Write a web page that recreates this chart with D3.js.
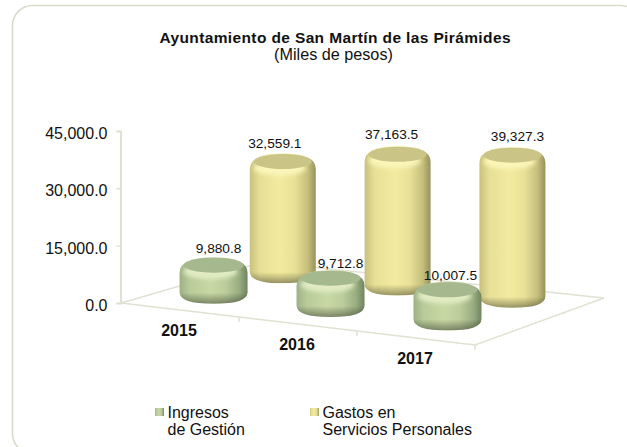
<!DOCTYPE html>
<html><head><meta charset="utf-8">
<script src="https://cdn.jsdelivr.net/npm/d3@7"></script>
<style>html,body{margin:0;padding:0;background:#fff;overflow:hidden}svg{display:block}text{font-family:"Liberation Sans",Arial,sans-serif;fill:#111}</style>
</head><body><svg id="c" width="627" height="447"></svg>
<script>
const categories = ["2015","2016","2017"];
const ingresos = [9880.8,9712.8,10007.5];
const gastos = [32559.1,37163.5,39327.3];
const yTicks = [0,15000,30000,45000];
const legendIngresos = ["Ingresos","de Gestión"];
const legendGastos = ["Gastos en","Servicios Personales"];

const svg = d3.select("#c");
const defs = svg.append("defs");
function grad(id,stops,x2,y2){
  const g=defs.append("linearGradient").attr("id",id).attr("x1",0).attr("y1",0).attr("x2",x2).attr("y2",y2);
  stops.forEach(s=>g.append("stop").attr("offset",s[0]).attr("stop-color",s[1]).attr("stop-opacity",s[2]===undefined?1:s[2]));
}
const pal={
 g:{side:["#9db188","#b8cb98","#c8d8a5","#bccd9c","#98ac80","#6f8560"],top:"#a6b88d",bev:"#e0ebc2"},
 y:{side:["#c8c17e","#e6df96","#f2eb9f","#e8e198","#c6bf7c","#97915d"],top:"#cbc487",bev:"#faf5b8"}
};
Object.entries(pal).forEach(([k,p])=>{
  grad("side"+k,[[0,p.side[0]],[.15,p.side[1]],[.45,p.side[2]],[.68,p.side[3]],[.88,p.side[4]],[1,p.side[5]]],1,0);
});
grad("shade",[[0,"#000",0],[.4,"#000",0],[1,"#000",.38]],0,1);
defs.append("filter").attr("id","soft").append("feGaussianBlur").attr("stdDeviation",.6);
const hf=defs.append("filter").attr("id","glow").attr("x","-20%").attr("y","-60%").attr("width","140%").attr("height","220%");
hf.append("feGaussianBlur").attr("stdDeviation",2.2);

// frame (runs off the right and bottom edges)
svg.append("rect").attr("x",12.5).attr("y",5.5).attr("width",628).attr("height",448).attr("rx",20)
  .attr("fill","#fff").attr("stroke","#dadacb").attr("stroke-width",1.6);

// titles
svg.append("text").attr("x",335).attr("y",43).attr("text-anchor","middle").attr("font-weight","bold").attr("font-size",15.5)
  .attr("textLength",351).attr("lengthAdjust","spacing").text("Ayuntamiento de San Martín de las Pirámides");
svg.append("text").attr("x",333.5).attr("y",60).attr("text-anchor","middle").attr("font-size",16.2).text("(Miles de pesos)");

// value axis
const y = d3.scaleLinear().domain([0,45000]).range([303,131]);
const axisG = svg.append("g").attr("transform","translate(120.5,0)")
  .call(d3.axisLeft(y).tickValues(yTicks).tickFormat(d3.format(",.1f")).tickSize(4).tickPadding(9));
axisG.select(".domain").attr("stroke","#dfe2d2").attr("stroke-width",2);
axisG.selectAll(".tick line").attr("stroke","#dfe2d2").attr("stroke-width",1.5);
axisG.selectAll("text").attr("font-size",16).attr("font-family","Liberation Sans").attr("fill","#111").attr("dy","0.47em");

// floor projection: u along categories, v across depth (0 front .. 1 back)
const fx = d3.scaleLinear().domain([0,categories.length]).range([121,475]);
const fy = d3.scaleLinear().domain([0,categories.length]).range([303,345]);
const dx = d3.scaleLinear().domain([0,categories.length]).range([142,129]);
const dy = d3.scaleLinear().domain([0,categories.length]).range([-41,-47]);
const P=(u,vx,vy=vx)=>[fx(u)+dx(u)*vx,fy(u)+dy(u)*vy];
const floor = svg.append("g").attr("fill","none").attr("stroke","#dfe2d2").attr("stroke-width",1.5);
const line=d3.line();
floor.append("path").attr("d",line([P(0,1),P(0,0),P(3,0),P(3,1),P(0,1)]));
d3.range(1,4).forEach(i=>floor.append("path").attr("d",line([P(i,0),[fx(i),fy(i)+5]])));

// category labels
svg.append("g").selectAll("text").data(categories).join("text")
  .attr("x",(d,i)=>fx(i+.5)-1).attr("y",(d,i)=>fy(i+.5)+25.5)
  .attr("text-anchor","middle").attr("font-weight","bold").attr("font-size",16).text(d=>d);

// cylinders
const depthX={g:.24,y:.735}, depthY={g:.35,y:.84};
const rx={g:34,y:33}, ry=8.5;
const kBase={g:.003,y:.00346};
const labelNudge={g:[[5,-4],[10,-2],[3,-2]],y:[[-8,-6],[-6,-7],[5,-6]]};
let clipId=0;
function cyl(k,val,i){
  const s=P(i+.5,depthX[k],depthY[k]);
  const cx=s[0], by=s[1];
  const h=d3.scaleLinear().domain([0,45000]).range([0,45000*kBase[k]*(1+.028*i)])(val);
  const tY=by-h, r=rx[k];
  const body=`M${cx-r},${tY+7}L${cx-r},${by-3}Q${cx-r},${by+ry} ${cx},${by+ry}Q${cx+r},${by+ry} ${cx+r},${by-3}L${cx+r},${tY+7}Q${cx+r},${tY-ry} ${cx},${tY-ry}Q${cx-r},${tY-ry} ${cx-r},${tY+7}Z`;
  const id="clip"+(clipId++);
  defs.append("clipPath").attr("id",id).append("path").attr("d",body);
  const g=svg.append("g").attr("class","cyl").attr("filter","url(#soft)");
  g.append("path").attr("d",body).attr("fill",`url(#side${k})`);
  const inner=g.append("g").attr("clip-path",`url(#${id})`);
  // dark rim at the foot
  inner.append("rect").attr("x",cx-r).attr("y",by-10).attr("width",2*r).attr("height",ry+10).attr("fill","url(#shade)");
  // light band under the top face
  inner.append("ellipse").attr("cx",cx-3).attr("cy",tY+6).attr("rx",r-7).attr("ry",ry-1).attr("fill",pal[k].bev).attr("filter","url(#glow)");
  // top face
  inner.append("ellipse").attr("cx",cx).attr("cy",tY-.5).attr("rx",r-4).attr("ry",ry-1).attr("fill",pal[k].top).attr("filter","url(#soft)");
  const n=labelNudge[k][i];
  return {x:cx+n[0],y:tY-ry+n[1],v:val};
}
const labels=[];
gastos.forEach((v,i)=>labels.push(cyl("y",v,i)));
ingresos.forEach((v,i)=>labels.push(cyl("g",v,i)));
svg.append("g").selectAll("text").data(labels).join("text")
  .attr("x",d=>d.x).attr("y",d=>d.y)
  .attr("text-anchor","middle").attr("font-size",13.7).text(d=>d3.format(",.1f")(d.v));

// legend
const legend=[{n:legendIngresos,k:"g",x:155},{n:legendGastos,k:"y",x:310}];
legend.forEach(l=>{
  const g=svg.append("g");
  g.append("rect").attr("x",l.x).attr("y",408).attr("width",9).attr("height",8).attr("fill",`url(#side${l.k})`);
  l.n.forEach((t,i)=>g.append("text").attr("x",l.x+12.5).attr("y",418+i*17).attr("font-size",16).text(t));
});
</script></body></html>
